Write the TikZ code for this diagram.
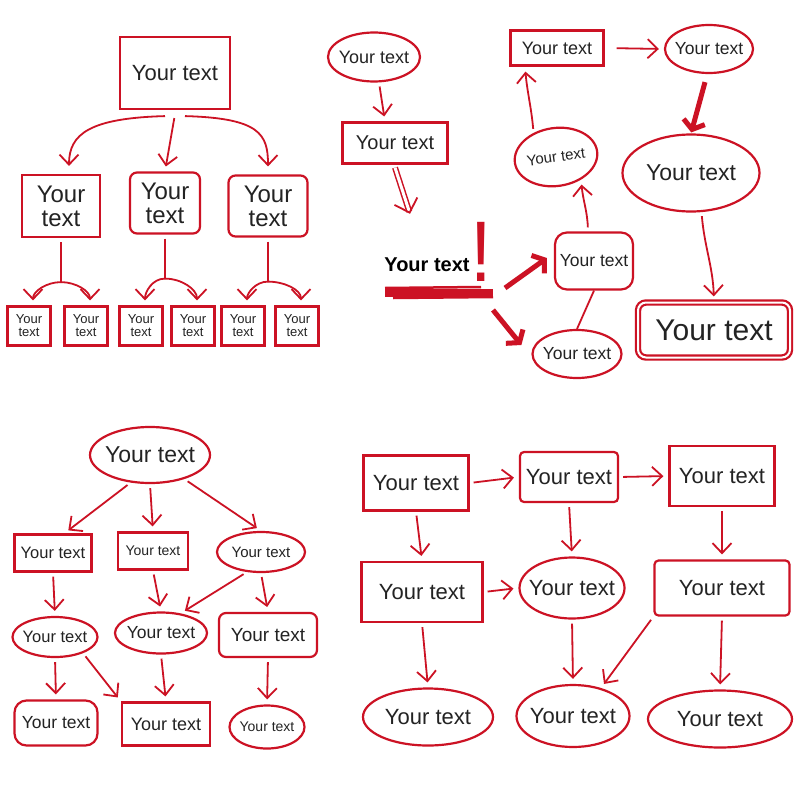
\documentclass[tikz,border=0pt]{standalone}
\usepackage{fontspec}
\setmainfont{Liberation Sans}
\usetikzlibrary{arrows.meta,shapes.geometric,positioning}

\definecolor{pen}{RGB}{204,18,36}
\definecolor{ink}{RGB}{35,35,35}
\newcommand{\oz}[1]{\makebox[0pt]{#1}}

\tikzset{
Box/.style={draw=pen, line width=2.2pt, inner sep=0pt, align=center, text=ink},
RBox/.style={Box, rounded corners=7pt},
Oval/.style={Box, ellipse},
sz/.style={font=\fontsize{#1}{#1}\selectfont},
SketchLink/.style={draw=pen, line width=1.8pt, -{Straight Barb[length=10pt,width=19pt]}, shorten <=4pt, shorten >=5pt},
BoldLink/.style={draw=pen, line width=5pt, -{Straight Barb[length=8pt,width=22pt]}},
DoubleLink/.style={draw=pen, line width=1.5pt, double=white, double distance=3pt, -{Straight Barb[length=12pt,width=24pt,line width=1.8pt]}},
PlainLink/.style={draw=pen, line width=1.8pt},
}

\begin{document}
\begin{tikzpicture}[x=1pt,y=-1pt]
	\fill[white] (0,0) rectangle (800,800);
	\useasboundingbox (0,0) rectangle (800,800);

	% top left: tree
	\node[Box, minimum width=110pt, minimum height=72pt, sz=22] (Root) at (175,73) {Your text};
	\node[Box, minimum width=78pt, minimum height=62pt, sz=24] (L1) at (61,206) {Your\\text};
	\node[RBox, minimum width=70pt, minimum height=61pt, sz=24] (L2) at (165,203) {Your\\text};
	\node[RBox, minimum width=79pt, minimum height=61pt, sz=24] (L3) at (268,206) {Your\\text};
	\foreach \n/\x in {1/29,2/86,3/141,4/193,5/243,6/297}
		\node[Box, minimum width=43pt, minimum height=39pt, sz=13] (S\n) at (\x,326) {Your\\text};

	\draw[SketchLink] ([yshift=-4pt]Root.south) -- (L2.north);
	\draw[SketchLink, shorten <=0pt, shorten >=8pt] ([xshift=-10pt,yshift=-6pt]Root.south) .. controls +(-75,2) and +(0,-40) .. ([xshift=8pt]L1.north);
	\draw[SketchLink, shorten <=0pt, shorten >=8pt] ([xshift=10pt,yshift=-6pt]Root.south) .. controls +(75,2) and +(0,-40) .. (L3.north);
	\foreach \p/\a/\b in {L1/S1/S2, L2/S3/S4, L3/S5/S6} {
		\coordinate (\p j) at ([yshift=-44pt]\p.south);
		\draw[PlainLink] ([yshift=-4pt]\p.south) -- (\p j);
		\draw[SketchLink, shorten <=0pt] (\p j) to[out=180,in=90] ([xshift=4pt]\a.north);
		\draw[SketchLink, shorten <=0pt] (\p j) to[out=0,in=90] ([xshift=4pt]\b.north);
	}

	% top right: loose flow
	\node[Oval, minimum width=92pt, minimum height=49pt, sz=18] (Start) at (374,57) {\oz{Your text}};
	\node[Box, minimum width=105pt, minimum height=41pt, sz=20] (Step) at (395,143) {Your text};
	\node[inner sep=0pt, text=black, font=\bfseries\fontsize{20}{20}\selectfont] (Shout) at (427,265) {Your text};
	\node[inner sep=0pt, text=pen, sz=86, xscale=0.9] (Bang) at (481,252) {!};
	\coordinate (u0) at (385,293);
	\coordinate (u1) at (493,293);
	\draw[pen, line width=8pt] (u0) -- (u1);
	\draw[pen, line width=2.5pt] ([yshift=5pt]u0) -- ([xshift=-12pt,yshift=6pt]u1);
	\draw[pen, line width=2.5pt] ([xshift=8pt,yshift=-5pt]u0) -- ([yshift=-4pt]u1);
	\node[RBox, rounded corners=12pt, minimum width=78pt, minimum height=57pt, sz=17.5] (Hub) at (594,261) {Your text};
	\node[Oval, minimum width=89pt, minimum height=48pt, sz=17.5] (Low) at (577,354) {\oz{Your text}};
	\node[Oval, rotate=8, minimum width=83pt, minimum height=58pt, sz=15] (Up) at (556,157) {\oz{Your text}};
	\node[Box, minimum width=93pt, minimum height=35pt, sz=18] (Top) at (557,48) {Your text};
	\node[Oval, minimum width=88pt, minimum height=48pt, sz=17.5] (Next) at (709,49) {\oz{Your text}};
	\node[Oval, minimum width=137pt, minimum height=77pt, sz=23] (Big) at (691,173) {\oz{Your text}};
	\node[RBox, double=white, double distance=2pt, rounded corners=8pt, minimum width=152pt, minimum height=55pt, sz=30] (Final) at (714,330) {Your text};

	\draw[SketchLink] ([xshift=5pt]Start.south) -- ([xshift=-10pt]Step.north);
	\draw[DoubleLink] ([yshift=-3pt]Step.south) -- ([xshift=-17pt,yshift=44pt]Shout.north);
	\draw[BoldLink] ([xshift=12pt,yshift=5pt]u1) -- ([xshift=-7pt,yshift=3pt]Hub.west);
	\draw[BoldLink] ([yshift=-17pt]u1) -- ([xshift=-10pt,yshift=9pt]Low.west);
	\draw[PlainLink] (Low.north) -- (Hub.south);
	\draw[SketchLink] ([xshift=-6pt]Hub.north) to[out=92,in=-85] (Up.-50);
	\draw[SketchLink] (Up.125) to[out=95,in=-85] ([xshift=-32pt]Top.south);
	\draw[SketchLink, shorten <=12pt] (Top.east) -- (Next.west);
	\draw[BoldLink, shorten >=1pt] ([xshift=-4pt,yshift=-8pt]Next.south) -- (Big.north);
	\draw[SketchLink] (Big.-75) to[out=-85,in=92] (Final.north);

	% bottom left: branching chart
	\node[Oval, minimum width=120pt, minimum height=56pt, sz=23] (Head) at (150,455) {\oz{Your text}};
	\node[Box, minimum width=77pt, minimum height=37pt, sz=16.5] (a1) at (53,553) {Your text};
	\node[Box, minimum width=70pt, minimum height=37pt, sz=14] (a2) at (153,551) {Your text};
	\node[Oval, minimum width=88pt, minimum height=40pt, sz=15] (a3) at (261,552) {\oz{Your text}};
	\node[Oval, minimum width=85pt, minimum height=40pt, sz=16.5] (b1) at (55,637) {\oz{Your text}};
	\node[Oval, minimum width=92pt, minimum height=41pt, sz=17.5] (b2) at (161,633) {\oz{Your text}};
	\node[RBox, minimum width=98pt, minimum height=44pt, sz=19] (b3) at (268,635) {Your text};
	\node[RBox, rounded corners=12pt, minimum width=83pt, minimum height=45pt, sz=17.5] (c1) at (56,723) {Your text};
	\node[Box, minimum width=88pt, minimum height=43pt, sz=18] (c2) at (166,724) {Your text};
	\node[Oval, minimum width=75pt, minimum height=43pt, sz=14] (c3) at (267,727) {\oz{Your text}};

	\draw[SketchLink] (Head.235) -- (a1.60);
	\draw[SketchLink] (Head.south) -- (a2.north);
	\draw[SketchLink] (Head.-35) -- (a3.north);
	\draw[SketchLink] (a1.south) -- (b1.north);
	\draw[SketchLink] (a2.south) -- (b2.north);
	\draw[SketchLink] (a3.-125) -- (b2.45);
	\draw[SketchLink] (a3.south) -- (b3.north);
	\draw[SketchLink] (b1.south) -- (c1.north);
	\draw[SketchLink] (b1.-30) -- (c2.north west);
	\draw[SketchLink] (b2.south) -- (c2.north);
	\draw[SketchLink] (b3.south) -- (c3.north);

	% bottom right: grid chart
	\node[Box, minimum width=105pt, minimum height=55pt, sz=22] (g11) at (416,483) {Your text};
	\node[RBox, rounded corners=4pt, minimum width=98pt, minimum height=50pt, sz=22] (g12) at (569,477) {Your text};
	\node[Box, minimum width=105pt, minimum height=60pt, sz=22] (g13) at (722,476) {Your text};
	\node[Box, minimum width=121pt, minimum height=60pt, sz=22] (g21) at (422,592) {Your text};
	\node[Oval, minimum width=105pt, minimum height=61pt, sz=22] (g22) at (572,588) {\oz{Your text}};
	\node[RBox, rounded corners=4pt, minimum width=135pt, minimum height=55pt, sz=22] (g23) at (722,588) {Your text};
	\node[Oval, minimum width=130pt, minimum height=57pt, sz=22] (g31) at (428,717) {\oz{Your text}};
	\node[Oval, minimum width=113pt, minimum height=62pt, sz=22] (g32) at (573,716) {\oz{Your text}};
	\node[Oval, minimum width=144pt, minimum height=57pt, sz=22] (g33) at (720,719) {\oz{Your text}};

	\draw[SketchLink] (g11.east) -- (g12.west);
	\draw[SketchLink] (g12.east) -- (g13.west);
	\draw[SketchLink] (g11.south) -- (g21.north);
	\draw[SketchLink] (g12.south) -- (g22.north);
	\draw[SketchLink] (g13.south) -- (g23.north);
	\draw[SketchLink] (g21.east) -- (g22.west);
	\draw[SketchLink] (g21.south) -- (g31.north);
	\draw[SketchLink] (g22.south) -- (g32.north);
	\draw[SketchLink] (g23.south west) -- (g32.45);
	\draw[SketchLink] (g23.south) -- (g33.north);
\end{tikzpicture}
\end{document}
